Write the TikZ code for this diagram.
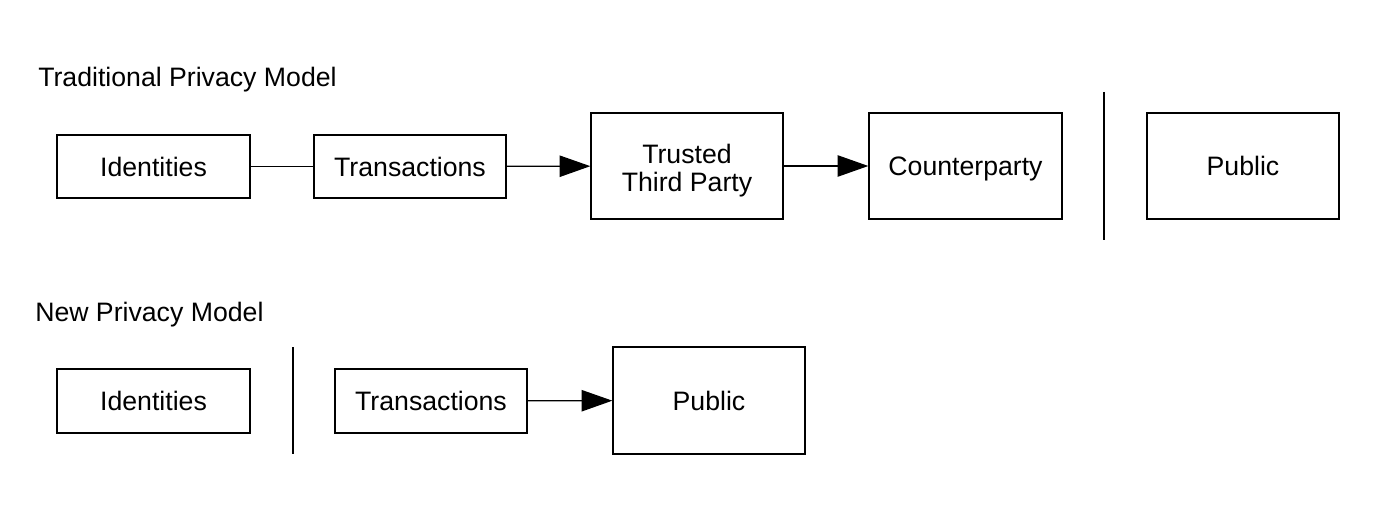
\documentclass[tikz,border=0pt]{standalone}
\usepackage{fontspec}
\setmainfont{Liberation Sans}
\usetikzlibrary{arrows.meta}
\begin{document}
\begin{tikzpicture}[x=0.75pt,y=-0.75pt,
  box/.style={draw, line width=1pt, inner sep=0pt, align=center, text height=14.3pt, text depth=0pt, font=\fontsize{20pt}{21pt}\selectfont},
  title/.style={anchor=base west, inner sep=0pt, font=\fontsize{20pt}{20pt}\selectfont},
  conn/.style={line width=0.9pt},
  arr/.style={line width=0.9pt, -{Triangle[length=23pt,width=16pt]}},
  sep/.style={line width=1pt}]
\useasboundingbox (0,0) rectangle (1386,506);
\node[title] (t1) at (38,87) {Traditional Privacy Model};
\node[title] (t2) at (35,321) {New Privacy Model};
% top row
\node[box, minimum width=144.75pt, minimum height=47.25pt] (id1) at (153.5,166.5) {Identities};
\node[box, minimum width=144pt, minimum height=47.25pt] (tr1) at (410,166.5) {Transactions};
\node[box, minimum width=144pt, minimum height=79.5pt, text height=39pt] (ttp) at (687,166) {Trusted\\Third Party};
\node[box, minimum width=144.75pt, minimum height=79.5pt] (cp) at (965.5,166) {Counterparty};
\node[box, minimum width=144pt, minimum height=79.5pt] (pub1) at (1243,166) {Public};
\coordinate (s1a) at (1104,92);
\coordinate (s1b) at (1104,240);
\draw[sep] (s1a) -- (s1b);
\draw[conn] (id1) -- (tr1);
\draw[arr] (tr1) -- (ttp);
\draw[arr] (ttp) -- (cp);
% bottom row
\node[box, minimum width=144.75pt, minimum height=48pt] (id2) at (153.5,401) {Identities};
\node[box, minimum width=144pt, minimum height=48pt] (tr2) at (431,401) {Transactions};
\node[box, minimum width=144pt, minimum height=80.25pt] (pub2) at (709,400.5) {Public};
\coordinate (s2a) at (293,347);
\coordinate (s2b) at (293,454);
\draw[sep] (s2a) -- (s2b);
\draw[arr] (tr2) -- (pub2);
\end{tikzpicture}
\end{document}
